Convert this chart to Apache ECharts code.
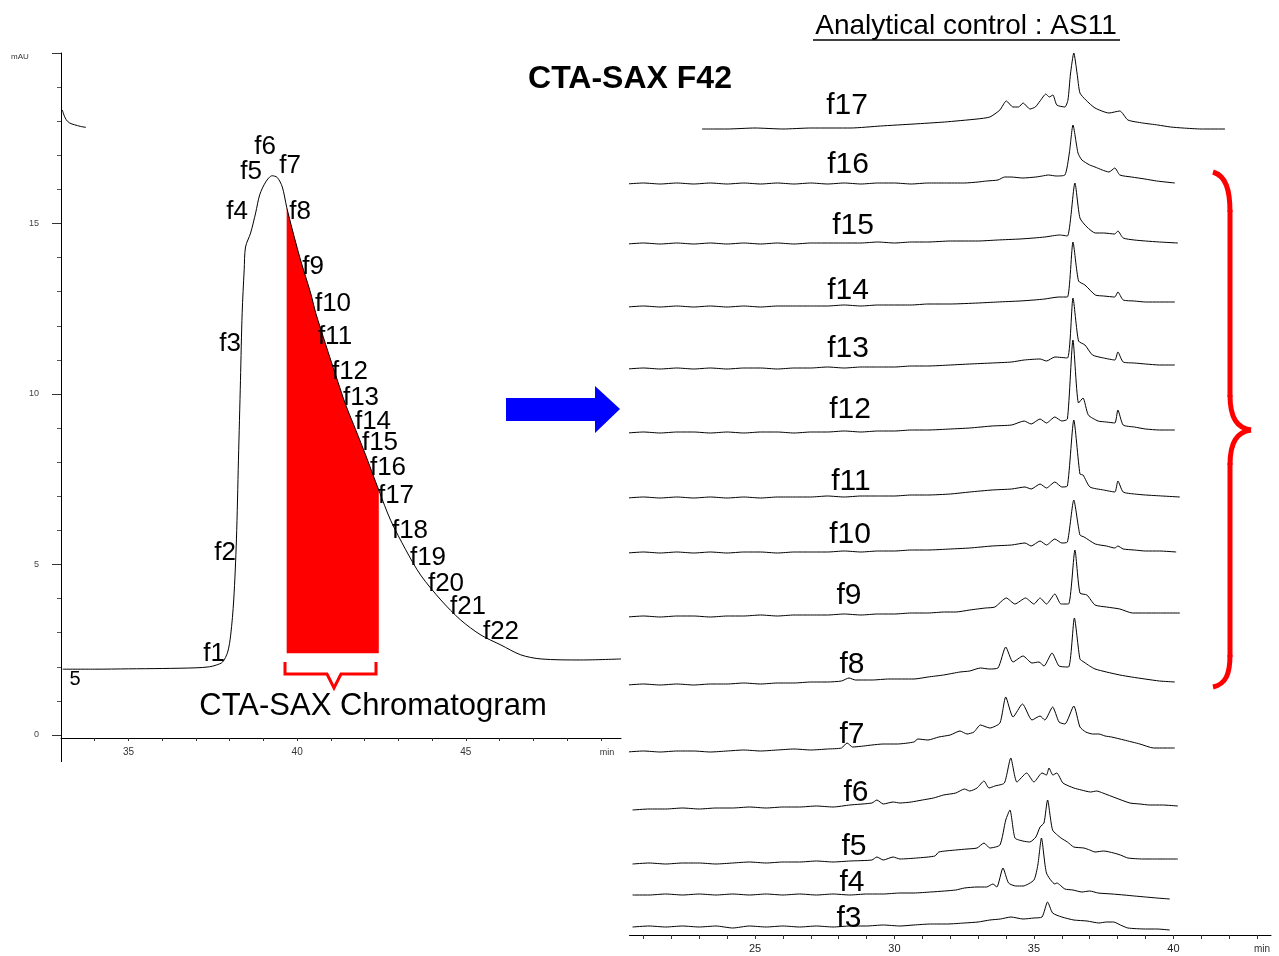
<!DOCTYPE html>
<html><head><meta charset="utf-8">
<script src="https://cdn.jsdelivr.net/npm/echarts@6/dist/echarts.min.js"></script>
<style>html,body{margin:0;padding:0;background:#fff}#c{width:1279px;height:956px}</style>
</head><body><div id="c"></div>
<script>
// ---------- Left: CTA-SAX chromatogram (min, mAU) ----------
const leftTime = [33.05,34,35,36,37,37.4,37.6,37.79,37.94,38.03,38.12,38.20,38.26,38.32,38.37,38.43,38.47,38.62,38.77,38.89,39.07,39.26,39.41,39.56,39.69,39.86,40.10,40.40,40.55,40.85,41.14,41.44,41.74,42.03,42.42,42.77,43.22,43.66,44.26,44.85,45.45,46.04,46.63,47.23,48.41,49.6];
const leftAbs  = [1.93,1.93,1.94,1.95,1.97,2.0,2.05,2.14,2.43,2.93,3.96,5.72,8.06,10.4,12.38,13.64,14.31,14.72,15.31,15.84,16.22,16.40,16.35,16.07,15.48,14.81,13.93,12.96,12.38,11.44,10.56,9.68,8.94,8.21,7.18,6.30,5.43,4.69,3.96,3.37,2.93,2.64,2.35,2.23,2.20,2.23];
const leftFragTime = [33.04,33.19,33.49,33.74];
const leftFragAbs  = [18.33,18.0,17.87,17.82];
const redStart = 39.66, redEnd = 42.45, redBase = 2.4;
const leftXLabels = [35,40,45];
const leftXTicks = [34,35,36,37,38,39,40,41,42,43,44,45,46,47,48,49];
const leftFractions = ['f1','f2','f3','f4','f5','f6','f7','f8','f9','f10','f11','f12','f13','f14','f15','f16','f17','f18','f19','f20','f21','f22'];

// ---------- Right: analytical traces (min, signal above own baseline) ----------
const traceNames = ['f3','f4','f5','f6','f7','f8','f9','f10','f11','f12','f13','f14','f15','f16','f17'];
const traceOffsets = [8,40,71,125,183,250,318,382,437,502,566,628,691,751,806];
const f3 = [[20.61,0],[21.2,1],[21.8,0],[22.4,1],[23,0],[23.6,1],[24.2,-1],[24.8,1],[25.4,0],[26,1],[26.6,0],[27.2,1],[27.8,0],[28.4,1],[29,1],[29.6,2],[30.2,1],[30.70,2],[31.3,3],[31.9,3],[32.5,4],[33.0,5],[33.42,7],[33.8,8],[34.18,10],[34.61,8],[35.0,9],[35.29,10],[35.49,25],[35.67,14],[36.0,10],[36.43,7],[36.9,6],[37.33,4],[37.6,5],[37.86,5],[38.1,2],[38.37,-1],[39.0,-2],[39.4,-2],[39.87,-3]];
const f4 = [[20.61,0],[21.2,0],[21.8,1],[22.4,0],[23,1],[23.6,0],[24.2,1],[24.8,0],[25.4,1],[26,0],[26.6,1],[27.2,0],[27.8,1],[28.4,0],[29,1],[29.6,1],[30.2,2],[30.70,2],[31.3,3],[31.8,4],[32.2,5],[32.51,7],[32.96,8],[33.3,8],[33.53,11],[33.67,8],[33.89,27],[34.09,12],[34.35,9],[34.61,9],[35.00,15],[35.14,30],[35.27,57],[35.45,22],[35.75,11],[35.82,12],[36.11,6],[36.4,5],[36.72,3],[37.0,4],[37.3,2],[37.8,1],[38.23,0],[38.6,-1],[39.0,-2],[39.4,-3],[39.87,-4]];
const f5 = [[20.61,0],[21.2,1],[21.8,0],[22.4,1],[23,1],[23.6,0],[24.2,1],[24.8,2],[25.4,1],[26,2],[26.6,2],[27.2,3],[27.8,2],[28.4,3],[29.19,4],[29.37,7],[29.6,4],[29.95,7],[30.2,5],[30.8,6],[31.45,8],[31.59,12],[32.20,14],[32.6,15],[32.96,16],[33.21,21],[33.42,16],[33.78,19],[33.99,44],[34.14,54],[34.32,26],[34.6,23],[34.85,22],[35.07,27],[35.22,37],[35.36,41],[35.49,64],[35.67,34],[35.97,26],[36.2,22],[36.43,17],[36.79,16],[37.0,14],[37.19,12],[37.5,13],[37.86,11],[38.1,9],[38.37,6],[38.9,5],[39.44,5],[39.8,5],[40.16,5]];
const f6 = [[20.61,0],[21.2,1],[21.8,1],[22.4,2],[23,1],[23.6,2],[24.2,2],[24.8,3],[25.4,2],[26,3],[26.6,3],[27.2,4],[27.8,3],[28.4,5],[29.19,7],[29.37,10],[29.6,6],[29.95,8],[30.2,7],[30.6,8],[31.0,10],[31.4,12],[31.76,15],[32.20,17],[32.51,21],[32.7,19],[32.96,22],[33.21,29],[33.39,22],[33.60,24],[33.94,27],[34.17,52],[34.39,28],[34.74,37],[35.00,28],[35.29,37],[35.45,35],[35.54,42],[35.68,35],[35.82,37],[36.04,27],[36.43,22],[36.7,20],[37.03,18],[37.25,19],[37.47,17],[37.94,12],[38.44,7],[38.8,6],[39.14,5],[39.6,5],[40.16,4]];
const f7 = [[20.41,0],[21,1],[21.6,0],[22.2,1],[22.8,1],[23.4,0],[24,1],[24.6,2],[25.2,1],[25.8,2],[26.4,3],[27,2],[27.6,3],[28.1,4],[28.30,9],[28.5,5],[28.9,6],[29.19,7],[29.6,8],[30.1,8],[30.70,10],[30.84,13],[31.2,12],[31.59,15],[32.0,17],[32.35,21],[32.6,18],[32.85,20],[33.08,27],[33.42,24],[33.78,29],[33.99,55],[34.25,35],[34.59,48],[34.93,32],[35.22,36],[35.39,32],[35.67,45],[35.90,30],[36.11,28],[36.43,46],[36.65,25],[36.86,20],[37.1,18],[37.33,18],[37.55,16],[37.78,15],[38.23,12],[38.8,8],[39.29,4],[39.7,4],[40.05,4]];
const f8 = [[20.41,0],[21,1],[21.6,0],[22.2,1],[22.8,0],[23.4,1],[24,1],[24.6,2],[25.2,1],[25.8,2],[26.4,2],[27,3],[27.6,3],[28.1,4],[28.37,7],[28.6,5],[29.2,5],[29.8,6],[30.70,6],[31.2,8],[31.76,10],[32.35,13],[32.7,14],[33.08,17],[33.4,16],[33.71,17],[33.99,38],[34.25,23],[34.61,29],[34.93,22],[35.18,23],[35.36,19],[35.65,32],[35.90,19],[36.24,18],[36.45,67],[36.65,26],[36.79,23],[37.0,19],[37.19,16],[37.6,13],[38.08,10],[38.5,8],[38.98,6],[39.5,4],[40.05,3]];
const f9 = [[20.41,0],[21,1],[21.6,0],[22.2,1],[22.8,1],[23.4,0],[24,1],[24.6,1],[25.2,2],[25.8,1],[26.4,2],[27,2],[27.6,2],[28.2,3],[28.8,2],[29.4,3],[30.0,3],[30.6,4],[31.2,4],[31.8,5],[32.20,5],[32.7,7],[33.26,9],[33.6,10],[34.01,19],[34.32,13],[34.70,19],[35.00,13],[35.22,19],[35.45,13],[35.75,23],[35.97,13],[36.24,13],[36.47,67],[36.65,24],[36.90,22],[37.19,12],[37.6,10],[38.08,8],[38.53,4],[39.0,4],[39.6,4],[40.23,4]];
const f10 = [[20.41,0],[21,1],[21.6,0],[22.2,1],[22.8,0],[23.4,1],[24,0],[24.6,1],[25.2,1],[25.8,0],[26.4,1],[27,1],[27.6,1],[28.2,2],[28.8,1],[29.4,2],[30,2],[30.6,3],[31.2,3],[32.0,4],[32.7,5],[33.5,7],[34.2,8],[34.68,10],[34.9,7],[35.22,12],[35.45,8],[35.75,14],[36.0,10],[36.2,11],[36.43,53],[36.65,18],[36.8,16],[37.2,9],[37.6,7],[37.9,5],[38.01,7],[38.2,4],[38.6,3],[39.0,2],[39.5,2],[40.10,1]];
const f11 = [[20.41,0],[21,1],[21.6,0],[22.2,1],[22.8,0],[23.4,1],[24,0],[24.6,1],[25.2,0],[25.8,1],[26.4,1],[27,1],[27.6,2],[28.2,1],[28.8,2],[29.4,2],[30,2],[30.6,3],[31.2,3],[32,4],[32.7,6],[33.5,8],[34.2,9],[34.68,11],[34.9,9],[35.22,14],[35.45,10],[35.75,16],[36.0,11],[36.2,12],[36.43,78],[36.65,24],[36.76,23],[37.01,11],[37.5,8],[37.9,6],[38.01,17],[38.2,6],[38.6,4],[39.0,3],[39.6,2],[40.23,1]];
const f12 = [[20.41,0],[21,1],[21.6,0],[22.2,1],[22.8,1],[23.4,0],[24,1],[24.6,0],[25.2,1],[25.8,1],[26.4,0],[27,1],[27.6,1],[28.2,2],[28.8,1],[29.4,2],[30,2],[30.6,3],[31.2,3],[32,4],[32.7,5],[33.5,7],[34.2,8],[34.65,12],[34.9,9],[35.22,14],[35.45,10],[35.75,16],[36.0,12],[36.2,14],[36.40,93],[36.6,30],[36.76,35],[36.95,18],[37.3,12],[37.6,11],[37.9,10],[38.01,23],[38.2,8],[38.6,6],[39.0,4],[39.5,3],[40.05,3]];
const f13 = [[20.41,0],[21,1],[21.6,0],[22.2,1],[22.8,0],[23.4,1],[24,0],[24.6,1],[25.2,1],[25.8,0],[26.4,1],[27,1],[27.6,2],[28.2,1],[28.8,2],[29.4,2],[30,2],[30.6,3],[31.2,3],[32,4],[32.7,5],[33.5,6],[34.2,7],[34.65,9],[35.22,10],[35.45,8],[35.75,12],[36.2,11],[36.40,71],[36.6,28],[36.83,24],[37.1,14],[37.5,11],[37.9,9],[38.01,17],[38.2,7],[38.6,6],[39.0,5],[39.5,4],[40.05,4]];
const f14 = [[20.41,0],[21,1],[21.6,0],[22.2,1],[22.8,0],[23.4,1],[24,0],[24.6,1],[25.2,0],[25.8,1],[26.4,1],[27,1],[27.6,1],[28.2,2],[28.8,1],[29.4,2],[30,2],[30.6,2],[31.2,3],[32,3],[33,4],[33.7,5],[34.5,6],[35.0,7],[35.39,8],[35.9,10],[36.2,10],[36.40,65],[36.6,26],[36.83,22],[37.2,12],[37.5,11],[37.9,10],[38.01,15],[38.2,7],[38.6,6],[39.0,5],[39.5,5],[40.05,5]];
const f15 = [[20.41,0],[21,1],[21.6,0],[22.2,1],[22.8,0],[23.4,1],[24,0],[24.6,1],[25.2,0],[25.8,1],[26.4,0],[27,1],[27.6,1],[28.2,1],[28.8,1],[29.4,2],[30,1],[30.6,2],[31.2,2],[32,3],[33,3],[33.7,4],[34.5,5],[35.0,6],[35.39,7],[35.93,9],[36.2,8],[36.47,61],[36.65,26],[36.90,17],[37.2,11],[37.5,11],[37.9,10],[38.01,13],[38.2,6],[38.6,4],[39.0,3],[39.5,2],[40.16,1]];
const f16 = [[20.38,0],[21,1],[21.6,0],[22.2,1],[22.8,0],[23.4,1],[24,0],[24.6,1],[25.2,0],[25.8,1],[26.4,0],[27,1],[27.6,0],[28.2,1],[28.8,0],[29.4,1],[30,1],[30.6,0],[31.2,1],[31.8,1],[32.51,1],[33.0,2],[33.3,3],[33.71,4],[33.95,7],[34.18,7],[34.6,6],[35.07,7],[35.3,8],[35.52,9],[35.8,8],[36.11,9],[36.27,31],[36.40,59],[36.58,31],[36.72,24],[37.0,19],[37.19,17],[37.45,14],[37.69,12],[37.90,16],[38.08,9],[38.5,7],[38.98,5],[39.4,3],[40.05,1]];
const f17 = [[23.10,0],[24,0],[25,1],[26,0],[27,1],[28.44,1],[29.5,3],[30.70,5],[31.8,7],[32.96,10],[33.42,12],[33.78,19],[34.01,28],[34.25,22],[34.45,22],[34.61,26],[34.86,20],[35.05,22],[35.22,28],[35.43,35],[35.55,32],[35.68,34],[35.82,24],[36.11,22],[36.22,29],[36.31,55],[36.43,76],[36.55,55],[36.65,36],[36.86,29],[37.19,21],[37.69,16],[38.08,18],[38.37,9],[38.9,6],[39.44,4],[39.9,2],[40.34,1],[41.0,0],[41.85,0]];
const traces = [f3,f4,f5,f6,f7,f8,f9,f10,f11,f12,f13,f14,f15,f16,f17];
const rightXLabels = [25,30,35,40];
const rightXTicks = [21,22,23,24,25,26,27,28,29,30,31,32,33,34,35,36,37,38,39,40,41,42,43];

const chart = echarts.init(document.getElementById('c'));
const FONT = '"Liberation Sans", Arial, Helvetica, sans-serif';
const txt = (text, x, y, font, extra) => ({
  type: 'text', x: x, y: y, silent: true, z: 100,
  style: Object.assign({ text: text, font: font, fill: '#000', textAlign: 'center', textVerticalAlign: 'middle' }, extra || {})
});

const leftLabelPos = [[214,654],[225,553],[230,344],[237,212],[251,172],[265,147],[290,166],[300,212],[313,267],[333,304],[335,337],[350,372],[361,398],[373,422],[380,443],[388,468],[396,496],[410,531],[428,558],[446,584],[468,607],[501,632]];
const rightLabelPos = [[849,919],[852,883],[854,847],[856,793],[852,735],[852,665],[849,596],[850,535],[851,482],[850,410],[848,349],[848,291],[853,226],[848,165],[847,106]];

const RED = '#ff0000';
const bz = (x1, y1, cx1, cy1, cx2, cy2, x2, y2, w) => ({ type: 'bezierCurve', silent: true, z: 100,
  shape: { x1: x1, y1: y1, cpx1: cx1, cpy1: cy1, cpx2: cx2, cpy2: cy2, x2: x2, y2: y2 },
  style: { stroke: RED, lineWidth: w, fill: null } });
const ln = (x1, y1, x2, y2, w, c) => ({ type: 'line', silent: true, z: 100,
  shape: { x1: x1, y1: y1, x2: x2, y2: y2 }, style: { stroke: c || RED, lineWidth: w } });

const graphics = [];
graphics.push(txt('CTA-SAX F42', 630, 79, 'bold 32px ' + FONT));
graphics.push(txt('Analytical control : AS11', 966, 26, '28px ' + FONT));
graphics.push(ln(813, 40, 1120, 40, 1.5, '#000'));
graphics.push(txt('CTA-SAX Chromatogram', 373, 706, '31px ' + FONT));
graphics.push(txt('5', 75, 679, '20px ' + FONT));
graphics.push(txt('mAU', 20, 57, '8px ' + FONT, { fill: '#333' }));
graphics.push(txt('min', 607, 753, '9px ' + FONT, { fill: '#333' }));
graphics.push(txt('min', 1262, 949, '10px ' + FONT, { fill: '#333' }));
graphics.push(ln(61.5, 735, 61.5, 762, 1, '#000'));
graphics.push({ type: 'polygon', silent: true, z: 100, shape: { points: [[506,398],[595,398],[595,386],[620,409],[595,433],[595,421],[506,421]] }, style: { fill: '#0000ff' } });
// right curly brace
graphics.push(bz(1213,172, 1226,176, 1230,190, 1230,212, 5));
graphics.push(ln(1230,210, 1230,397, 5));
graphics.push(bz(1230,395, 1230,418, 1237,428, 1251,430, 5));
graphics.push(bz(1251,430, 1237,432, 1230,442, 1230,465, 5));
graphics.push(ln(1230,463, 1230,657, 5));
graphics.push(bz(1230,655, 1230,674, 1226,684, 1213,687, 5));
// small brace under the red fill
graphics.push({ type: 'polyline', silent: true, z: 100, shape: { points: [[285,662],[285,674],[327,674],[334,688],[341,674],[376,674],[376,662]] }, style: { stroke: RED, lineWidth: 3, fill: null } });
leftFractions.forEach((n, i) => graphics.push(txt(n, leftLabelPos[i][0], leftLabelPos[i][1], '26px ' + FONT)));
traceNames.forEach((n, i) => graphics.push(txt(n, rightLabelPos[i][0], rightLabelPos[i][1], '30px ' + FONT)));

const series = [
  {
    type: 'custom', xAxisIndex: 0, yAxisIndex: 0, silent: true, z: 1,
    data: [[redStart, redBase]],
    renderItem: function (params, api) {
      if (params.dataIndex !== 0) return;
      const pts = leftTime.map((t, i) => [t, leftAbs[i]]).filter(p => p[0] >= redStart && p[0] <= redEnd);
      const poly = pts.map(p => api.coord(p));
      poly.push(api.coord([pts[pts.length - 1][0], redBase]));
      poly.push(api.coord([pts[0][0], redBase]));
      return { type: 'polygon', shape: { points: poly }, style: { fill: RED } };
    }
  },
  {
    type: 'line', xAxisIndex: 0, yAxisIndex: 0, z: 3, showSymbol: false, smooth: 0.3, silent: true,
    data: leftTime.map((t, i) => [t, leftAbs[i]]),
    lineStyle: { color: '#000', width: 1 }
  },
  {
    type: 'line', xAxisIndex: 0, yAxisIndex: 0, z: 3, showSymbol: false, smooth: 0.4, silent: true,
    data: leftFragTime.map((t, i) => [t, leftFragAbs[i]]),
    lineStyle: { color: '#000', width: 1 }
  }
];
traces.forEach((tr, i) => {
  series.push({
    type: 'line', xAxisIndex: 1, yAxisIndex: 1, showSymbol: false, smooth: 0.2, silent: true,
    name: traceNames[i],
    data: tr.map(p => [p[0], p[1] + traceOffsets[i]]),
    lineStyle: { color: '#000', width: 1 }
  });
});

chart.setOption({
  animation: false,
  backgroundColor: '#fff',
  textStyle: { fontFamily: FONT },
  grid: [
    { left: 61, width: 560, top: 53, bottom: 221 },
    { left: 629.5, right: 8, top: 35, bottom: 21 }
  ],
  xAxis: [
    {
      type: 'value', gridIndex: 0, min: 33, max: 49.6, offset: 3,
      axisLine: { show: true, onZero: false, lineStyle: { color: '#000', width: 1 } },
      axisTick: { show: true, customValues: leftXTicks, length: 3, lineStyle: { color: '#333' } },
      axisLabel: { customValues: leftXLabels, fontSize: 10, color: '#333', margin: 9 },
      splitLine: { show: false }
    },
    {
      type: 'value', gridIndex: 1, min: 20.5, max: 43.5,
      axisLine: { show: true, onZero: false, lineStyle: { color: '#000', width: 1 } },
      axisTick: { show: true, customValues: rightXTicks, length: 4, lineStyle: { color: '#333' } },
      axisLabel: { customValues: rightXLabels, fontSize: 11, color: '#222', margin: 8 },
      splitLine: { show: false }
    }
  ],
  yAxis: [
    {
      type: 'value', gridIndex: 0, min: 0, max: 20, interval: 5,
      axisLine: { show: true, onZero: false, lineStyle: { color: '#000', width: 1 } },
      axisTick: { show: true, length: 9, lineStyle: { color: '#333' } },
      minorTick: { show: true, splitNumber: 5, length: 4, lineStyle: { color: '#555' } },
      axisLabel: { fontSize: 9, color: '#444', margin: 22, formatter: v => (v === 20 ? '' : String(v)) },
      splitLine: { show: false }
    },
    { type: 'value', gridIndex: 1, min: 0, max: 900, show: false, splitLine: { show: false } }
  ],
  series: series,
  graphic: { elements: graphics }
});
</script></body></html>
